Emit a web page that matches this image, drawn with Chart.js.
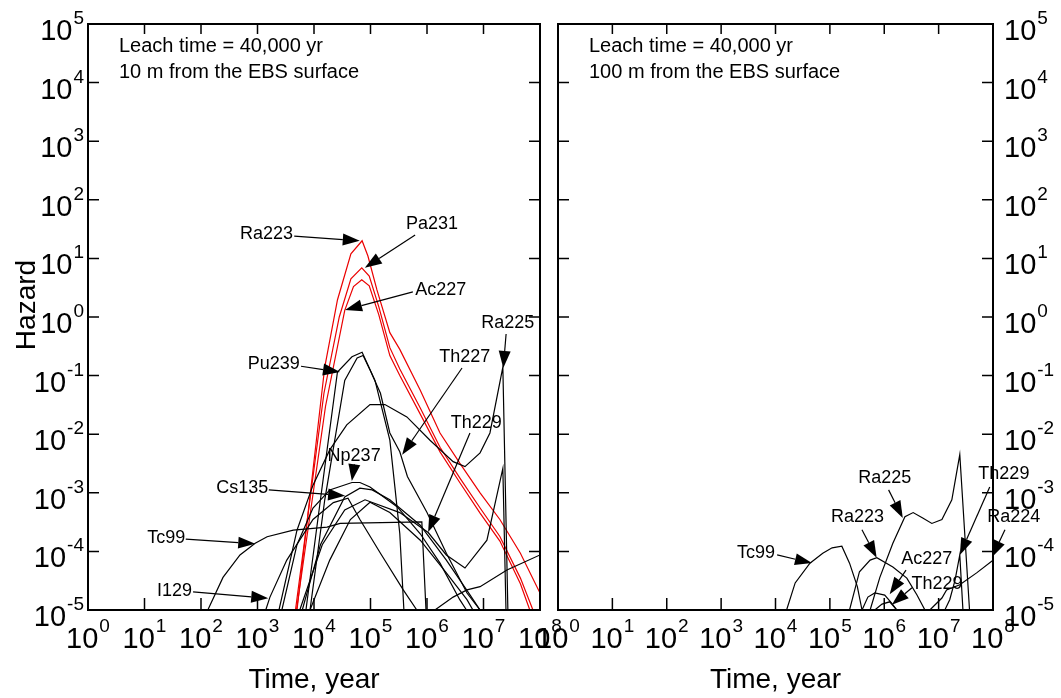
<!DOCTYPE html>
<html>
<head>
<meta charset="utf-8">
<script src="https://cdn.jsdelivr.net/npm/chart.js@4.4.0/dist/chart.umd.min.js"></script>
<style>
  html, body { margin: 0; padding: 0; background: #fff; }
  #wrap { position: relative; width: 1061px; height: 698px; overflow: hidden; }
  canvas { position: absolute; top: 0; }
  #leftCanvas { left: 0; }
  #rightCanvas { left: 500px; }
</style>
</head>
<body>
<div id="wrap">
  <canvas id="leftCanvas" width="600" height="698"></canvas>
  <canvas id="rightCanvas" width="561" height="698"></canvas>
</div>
<script>
// --- axis decades ---
const xPowers = [0, 1, 2, 3, 4, 5, 6, 7, 8];
const yPowers = [-5, -4, -3, -2, -1, 0, 1, 2, 3, 4, 5];

// --- 10 m panel: time (yr) and hazard per nuclide ---
const ra223L_T = [5.0e3, 1.55e4, 2.6e4, 4.5e4, 7.1e4, 9.0e4, 1.3e5, 2.2e5, 3.3e5, 7.6e5, 1.7e6, 3.8e6, 8.7e6, 1.95e7, 4.5e7, 1.0e8];
const ra223L_H = [1e-5, 0.14, 1.95, 12, 20, 11, 2.9, 0.54, 0.28, 0.056, 0.0105, 3.2e-3, 1.0e-3, 3.5e-4, 9.3e-5, 1.95e-5];
const pa231L_T = [4.7e3, 1.5e4, 2.8e4, 4.5e4, 7.0e4, 9.5e4, 1.4e5, 2.2e5, 3.3e5, 7.6e5, 1.7e6, 3.8e6, 8.7e6, 1.95e7, 4.5e7, 7.5e7];
const pa231L_H = [1e-5, 0.05, 1.0, 4.5, 6.9, 5.0, 1.5, 0.3, 0.13, 0.028, 6.0e-3, 1.8e-3, 5.5e-4, 1.8e-4, 3.5e-5, 1e-5];
const ac227L_T = [4.9e3, 1.6e4, 3.5e4, 5.0e4, 7.0e4, 9.5e4, 1.4e5, 2.2e5, 3.3e5, 7.6e5, 1.7e6, 3.8e6, 8.7e6, 1.95e7, 4.5e7, 6.6e7];
const ac227L_H = [1e-5, 0.03, 1.3, 3.3, 4.3, 3.4, 1.1, 0.22, 0.1, 0.022, 5.0e-3, 1.5e-3, 4.5e-4, 1.5e-4, 2.8e-5, 1e-5];
const pu239L_T = [7.2e3, 1.3e4, 2.6e4, 4.7e4, 7.1e4, 1.2e5, 2.2e5, 2.7e5, 3.3e5, 3.9e5];
const pu239L_H = [1e-5, 7.6e-4, 0.115, 0.21, 0.25, 0.083, 7.9e-3, 1.26e-3, 2.0e-4, 1e-5];
const th227L_T = [8.5e3, 1.55e4, 3.5e4, 5.8e4, 7.4e4, 1.0e5, 1.5e5, 2.2e5, 3.3e5, 4.5e5, 1.0e6, 2.2e6, 5.1e6, 8.7e6];
const th227L_H = [1e-5, 7.6e-4, 0.083, 0.2, 0.22, 0.12, 0.05, 0.0105, 5.0e-3, 1.9e-3, 4.6e-4, 9.3e-5, 1.95e-5, 1e-5];
const ra225L_T = [2.4e3, 3.8e3, 5.0e3, 9.6e3, 1.9e4, 3.8e4, 9.8e4, 1.8e5, 4.4e5, 1.13e6, 2.9e6, 4.7e6, 8.7e6, 1.3e7, 2.2e7, 2.7e7];
const ra225L_H = [1e-5, 7.1e-5, 2.3e-4, 1.35e-3, 5.4e-3, 0.0144, 0.032, 0.032, 0.0197, 7.9e-3, 3.4e-3, 2.8e-3, 4.8e-3, 0.0105, 0.14, 1e-5];
const np237L_T = [2.7e3, 5.0e3, 9.6e3, 1.9e4, 4.7e4, 6.5e4, 9.8e4, 2.95e5, 7.6e5, 1.7e6, 3.8e6, 5.0e6];
const np237L_H = [1e-5, 1.3e-4, 5.5e-4, 1.12e-3, 1.5e-3, 1.5e-3, 1.26e-3, 5.8e-4, 2.0e-4, 6.3e-5, 1.5e-5, 1e-5];
const cs135L_T = [6.2e3, 1.3e4, 3.5e4, 6.5e4, 1.07e5, 2.2e5, 7.6e5, 2.2e6, 5.8e6, 8.7e6];
const cs135L_H = [1e-5, 1.3e-4, 8.5e-4, 1.2e-3, 1.12e-3, 7.6e-4, 2.8e-4, 7.1e-5, 1.8e-5, 1e-5];
const i129L_T = [1.4e3, 1.66e3, 3.3e3, 9.6e3, 2.2e4, 4.0e4, 6.5e4, 1.5e5, 3.8e5, 6.6e5];
const i129L_H = [1e-5, 1.66e-5, 7.1e-5, 3.5e-4, 6.8e-4, 8.1e-4, 3.5e-4, 9.3e-5, 2.2e-5, 1e-5];
const tc99L_T = [132, 245, 490, 910, 1.48e3, 4.3e3, 1.7e4, 2.9e4, 8.1e5, 9.6e5];
const tc99L_H = [1e-5, 3.6e-5, 8.7e-5, 1.38e-4, 1.78e-4, 2.3e-4, 2.6e-4, 3.0e-4, 3.2e-4, 1e-5];
const th229L_T = [5.6e3, 1.4e4, 3.5e4, 8.0e4, 3.3e5, 1.05e6, 2.2e6, 4.7e6, 1.15e7, 2.2e7, 2.5e7];
const th229L_H = [1e-5, 1.3e-4, 5.1e-4, 7.6e-4, 4.6e-4, 2.1e-4, 8.7e-5, 5.2e-5, 1.55e-4, 2.6e-3, 1e-5];
const otherAL_T = [8.5e3, 1.9e4, 4.4e4, 9.8e4, 2.2e5, 7.6e5, 2.2e6, 5.1e6, 6.5e6];
const otherAL_H = [1e-5, 7.1e-5, 3.5e-4, 6.9e-4, 4.6e-4, 1.55e-4, 4.3e-5, 1.5e-5, 1e-5];
const otherBL_T = [1.38e6, 2.9e6, 5.1e6, 8.7e6, 2.6e7, 1.0e8];
const otherBL_H = [1e-5, 1.66e-5, 2.2e-5, 2.5e-5, 4.8e-5, 8.7e-5];

// --- 100 m panel ---
const tc99R_T = [1.6e4, 2.3e4, 4.3e4, 7.4e4, 1.1e5, 1.66e5, 2.3e5, 3.2e5, 3.9e5];
const tc99R_H = [1e-5, 2.9e-5, 6.3e-5, 9.3e-5, 1.15e-4, 1.23e-4, 6.3e-5, 2.5e-5, 1e-5];
const ra223R_T = [2.3e5, 3.5e5, 5.5e5, 7.3e5, 1.44e6, 2.6e6, 4.0e6, 5.6e6];
const ra223R_H = [1e-5, 4.5e-5, 7.1e-5, 7.8e-5, 5.4e-5, 3.5e-5, 1.8e-5, 1e-5];
const ra225R_T = [5.5e5, 8.3e5, 1.44e6, 2.4e6, 3.4e6, 5.1e6, 7.5e6, 1.15e7, 1.75e7, 2.45e7, 3.7e7];
const ra225R_H = [1e-5, 3.6e-5, 1.38e-4, 3.9e-4, 4.6e-4, 3.7e-4, 3.0e-4, 3.5e-4, 7.6e-4, 4.5e-3, 1e-5];
const ac227R_T = [3.9e5, 5.0e5, 6.7e5, 1.02e6, 1.38e6, 1.7e6];
const ac227R_H = [1e-5, 1.66e-5, 1.95e-5, 1.8e-5, 1.3e-5, 1e-5];
const th229aR_T = [6.7e5, 9.1e5, 1.26e6, 1.7e6];
const th229aR_H = [1e-5, 1.26e-5, 1.38e-5, 1e-5];
const th229bR_T = [1.3e7, 1.6e7, 2.0e7, 2.45e7, 2.8e7];
const th229bR_H = [1e-5, 1.5e-5, 3.2e-5, 8.7e-5, 1e-5];
const ra224R_T = [6.9e6, 1.15e7, 1.4e7, 2.45e7, 5.0e7, 1.0e8];
const ra224R_H = [1e-5, 1.6e-5, 2.2e-5, 2.7e-5, 4.3e-5, 7.1e-5];

const RED = "rgb(235,0,0)";
const BLACK = "#000";

const leftSeries = [
  [tc99L_T, tc99L_H, BLACK], [i129L_T, i129L_H, BLACK], [cs135L_T, cs135L_H, BLACK],
  [np237L_T, np237L_H, BLACK], [pu239L_T, pu239L_H, BLACK], [th227L_T, th227L_H, BLACK],
  [ra225L_T, ra225L_H, BLACK], [th229L_T, th229L_H, BLACK], [otherAL_T, otherAL_H, BLACK],
  [otherBL_T, otherBL_H, BLACK],
  [ra223L_T, ra223L_H, RED], [pa231L_T, pa231L_H, RED], [ac227L_T, ac227L_H, RED]
];
const rightSeries = [
  [tc99R_T, tc99R_H, BLACK], [ra223R_T, ra223R_H, BLACK], [ra225R_T, ra225R_H, BLACK],
  [ac227R_T, ac227R_H, BLACK], [th229aR_T, th229aR_H, BLACK], [th229bR_T, th229bR_H, BLACK],
  [ra224R_T, ra224R_H, BLACK]
];

// label placement in decades: [log10 t, log10 H]
const leftNotes = [
  { text: "Ra223", at: [3.63, 1.42], align: "right", tail: [3.65, 1.38], tip: [4.81, 1.30] },
  { text: "Pa231", at: [6.09, 1.59], align: "center", tail: [5.79, 1.40], tip: [4.90, 0.84] },
  { text: "Ac227", at: [5.79, 0.46], align: "left", tail: [5.75, 0.43], tip: [4.55, 0.12] },
  { text: "Pu239", at: [3.75, -0.80], align: "right", tail: [3.77, -0.84], tip: [4.46, -0.94] },
  { text: "Th227", at: [6.67, -0.68], align: "center", tail: [6.62, -0.87], tip: [5.56, -2.35] },
  { text: "Ra225", at: [7.43, -0.10], align: "center", tail: [7.40, -0.29], tip: [7.35, -0.87] },
  { text: "Th229", at: [6.87, -1.81], align: "center", tail: [6.76, -1.98], tip: [6.02, -3.67] },
  { text: "Np237", at: [4.71, -2.37], align: "center", tail: [4.71, -2.54], tip: [4.67, -2.80] },
  { text: "Cs135", at: [3.19, -2.92], align: "right", tail: [3.20, -2.95], tip: [4.55, -3.05] },
  { text: "Tc99", at: [1.72, -3.77], align: "right", tail: [1.73, -3.79], tip: [2.96, -3.87] },
  { text: "I129", at: [1.84, -4.68], align: "right", tail: [1.86, -4.69], tip: [3.19, -4.80] }
];
const rightNotes = [
  { text: "Tc99", at: [3.99, -4.03], align: "right", tail: [4.03, -4.06], tip: [4.67, -4.20] },
  { text: "Ra223", at: [5.51, -3.41], align: "center", tail: [5.59, -3.63], tip: [5.86, -4.11] },
  { text: "Ra225", at: [6.01, -2.75], align: "center", tail: [6.08, -2.95], tip: [6.34, -3.43] },
  { text: "Ac227", at: [6.78, -4.13], align: "center", tail: [6.40, -4.32], tip: [6.10, -4.73] },
  { text: "Th229", at: [6.97, -4.56], align: "center", tail: [6.51, -4.62], tip: [6.14, -4.91] },
  { text: "Th229", at: [8.20, -2.68], align: "center", tail: [7.94, -2.90], tip: [7.39, -4.06] },
  { text: "Ra224", at: [8.38, -3.41], align: "center", tail: [8.22, -3.63], tip: [7.98, -4.10] }
];

const FONT = '"Liberation Sans", Arial, sans-serif';

// "10" with a raised exponent
function drawPow(ctx, exp, x, base, align) {
  ctx.font = "29px " + FONT;
  const w1 = ctx.measureText("10").width;
  ctx.font = "19px " + FONT;
  const w2 = ctx.measureText(String(exp)).width;
  const total = w1 + 1 + w2;
  let sx = x;
  if (align === "center") sx = x - total / 2;
  if (align === "right") sx = x - total;
  ctx.textAlign = "left";
  ctx.textBaseline = "alphabetic";
  ctx.font = "29px " + FONT;
  ctx.fillText("10", sx, base);
  ctx.font = "19px " + FONT;
  ctx.fillText(String(exp), sx + w1 + 1, base - 16);
}

function arrow(ctx, x0, y0, x1, y1) {
  const a = Math.atan2(y1 - y0, x1 - x0);
  const len = 17, half = 6;
  const bx = x1 - len * Math.cos(a), by = y1 - len * Math.sin(a);
  ctx.beginPath();
  ctx.moveTo(x0, y0);
  ctx.lineTo(bx, by);
  ctx.stroke();
  ctx.beginPath();
  ctx.moveTo(x1, y1);
  ctx.lineTo(bx + half * Math.sin(a), by - half * Math.cos(a));
  ctx.lineTo(bx - half * Math.sin(a), by + half * Math.cos(a));
  ctx.closePath();
  ctx.fill();
}

const framePlugin = {
  id: "frame",
  afterDraw(chart, args, o) {
    const { ctx, chartArea: a } = chart;
    const x = chart.scales.x, y = chart.scales.y;
    const px = v => x.getPixelForValue(Math.pow(10, v));
    const py = v => y.getPixelForValue(Math.pow(10, v));
    ctx.save();
    ctx.strokeStyle = "#000";
    ctx.fillStyle = "#000";

    // box
    ctx.lineWidth = 2;
    ctx.strokeRect(a.left, a.top, a.right - a.left, a.bottom - a.top);

    // inward ticks on every side
    ctx.lineWidth = 1.5;
    ctx.beginPath();
    xPowers.slice(1, -1).forEach(k => {
      const X = px(k);
      ctx.moveTo(X, a.bottom); ctx.lineTo(X, a.bottom - 12);
      ctx.moveTo(X, a.top); ctx.lineTo(X, a.top + 10);
    });
    yPowers.slice(1, -1).forEach(k => {
      const Y = py(k);
      ctx.moveTo(a.left, Y); ctx.lineTo(a.left + 11, Y);
      ctx.moveTo(a.right, Y); ctx.lineTo(a.right - 11, Y);
    });
    ctx.stroke();

    // tick labels
    xPowers.forEach(k => drawPow(ctx, k, px(k), a.bottom + 38, "center"));
    yPowers.forEach(k => {
      if (o.side === "left") drawPow(ctx, k, a.left - 4, py(k) + 16, "right");
      else drawPow(ctx, k, a.right + 11, py(k) + 16, "left");
    });

    // axis titles
    ctx.font = "28px " + FONT;
    ctx.textAlign = "center";
    ctx.textBaseline = "middle";
    ctx.fillText("Time, year", (a.left + a.right) / 2, a.bottom + 70);
    if (o.side === "left") {
      ctx.save();
      ctx.translate(27, 305);
      ctx.rotate(-Math.PI / 2);
      ctx.fillText("Hazard", 0, 0);
      ctx.restore();
    }

    // case header
    ctx.font = "20px " + FONT;
    ctx.textAlign = "left";
    ctx.fillText("Leach time = 40,000 yr", a.left + 31, a.top + 22);
    ctx.fillText(o.header, a.left + 31, a.top + 48);

    // nuclide labels with arrows
    ctx.lineWidth = 1.2;
    o.notes.forEach(n => {
      ctx.font = "18px " + FONT;
      ctx.textAlign = n.align;
      ctx.textBaseline = "middle";
      ctx.fillText(n.text, px(n.at[0]), py(n.at[1]));
      arrow(ctx, px(n.tail[0]), py(n.tail[1]), px(n.tip[0]), py(n.tip[1]));
    });
    ctx.restore();
  }
};

function panelConfig(series, opts) {
  return {
    type: "line",
    data: {
      datasets: series.map(([t, h, color]) => ({
        data: t.map((v, i) => ({ x: v, y: h[i] })),
        borderColor: color,
        borderWidth: 1.2,
        pointRadius: 0,
        tension: 0,
        fill: false
      }))
    },
    options: {
      responsive: false,
      animation: false,
      devicePixelRatio: 1,
      events: [],
      layout: { padding: opts.padding },
      plugins: {
        legend: { display: false },
        tooltip: { enabled: false },
        frame: opts
      },
      scales: {
        x: { type: "logarithmic", min: 1, max: 1e8, display: false },
        y: { type: "logarithmic", min: 1e-5, max: 1e5, display: false }
      }
    },
    plugins: [framePlugin]
  };
}

new Chart(document.getElementById("leftCanvas"), panelConfig(leftSeries, {
  side: "left",
  header: "10 m from the EBS surface",
  notes: leftNotes,
  padding: { left: 88, top: 24, right: 60, bottom: 88 }
}));

new Chart(document.getElementById("rightCanvas"), panelConfig(rightSeries, {
  side: "right",
  header: "100 m from the EBS surface",
  notes: rightNotes,
  padding: { left: 58, top: 24, right: 68, bottom: 88 }
}));
</script>
</body>
</html>
